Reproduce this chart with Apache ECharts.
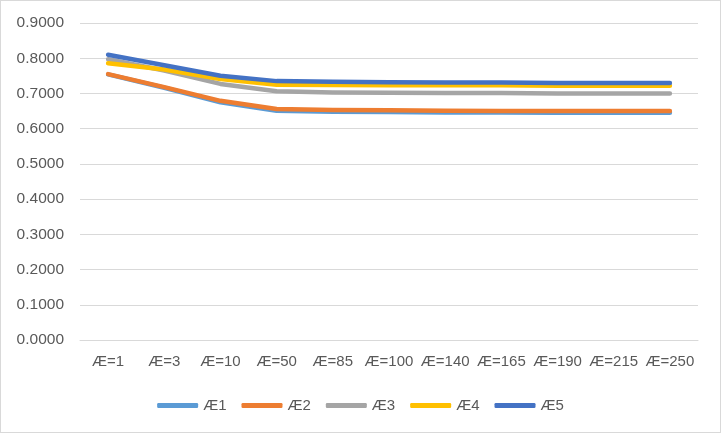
<!DOCTYPE html>
<html>
<head>
<meta charset="utf-8">
<script src="https://cdn.jsdelivr.net/npm/echarts@6/dist/echarts.min.js"></script>
<style>
html,body{margin:0;padding:0;background:#fff;}
#c{width:719px;height:431px;border:1px solid #D9D9D9;}
</style>
</head>
<body>
<div id="c"></div>
<script>
var categories = ['Æ=1','Æ=3','Æ=10','Æ=50','Æ=85','Æ=100','Æ=140','Æ=165','Æ=190','Æ=215','Æ=250'];
var seriesNames = ['Æ1','Æ2','Æ3','Æ4','Æ5'];
var s1 = [0.754, 0.716, 0.675, 0.651, 0.648, 0.647, 0.646, 0.646, 0.645, 0.645, 0.645];
var s2 = [0.755, 0.718, 0.679, 0.656, 0.653, 0.652, 0.651, 0.650, 0.650, 0.650, 0.650];
var s3 = [0.797, 0.765, 0.727, 0.706, 0.703, 0.702, 0.701, 0.701, 0.700, 0.700, 0.700];
var s4 = [0.786, 0.768, 0.741, 0.725, 0.724, 0.723, 0.723, 0.723, 0.722, 0.722, 0.722];
var s5 = [0.810, 0.780, 0.750, 0.735, 0.733, 0.732, 0.731, 0.731, 0.730, 0.730, 0.730];
var yTicks = {min: 0, max: 0.9, interval: 0.1};

var colors = ['#5B9BD5','#ED7D31','#A5A5A5','#FFC000','#4472C4'];
var allData = [s1, s2, s3, s4, s5];
var font = 'Liberation Sans, Arial, sans-serif';
var chart = echarts.init(document.getElementById('c'));
chart.setOption({
  animation: false,
  color: colors,
  grid: {left: 79, right: 22, top: 22, bottom: 92, containLabel: false},
  legend: {
    bottom: 14, left: 'center',
    icon: 'roundRect', itemWidth: 41, itemHeight: 5, itemGap: 15,
    textStyle: {color: '#595959', fontSize: 15, fontFamily: font},
    data: seriesNames
  },
  xAxis: {
    type: 'category', data: categories, boundaryGap: true,
    axisLine: {lineStyle: {color: '#D9D9D9', width: 1}},
    axisTick: {show: false},
    axisLabel: {color: '#595959', fontSize: 15, fontFamily: font, margin: 14, interval: 0}
  },
  yAxis: {
    type: 'value', min: yTicks.min, max: yTicks.max, interval: yTicks.interval,
    axisLine: {show: false}, axisTick: {show: false},
    splitLine: {lineStyle: {color: '#D9D9D9', width: 1}},
    axisLabel: {color: '#595959', fontSize: 15.5, fontFamily: font, margin: 16,
      formatter: function(v){ return v.toFixed(4); }}
  },
  series: allData.map(function(d, i){
    return {
      name: seriesNames[i], type: 'line', data: d,
      symbol: 'none', showSymbol: false,
      lineStyle: {width: 4.5, cap: 'round', join: 'round'}
    };
  })
});
</script>
</body>
</html>
